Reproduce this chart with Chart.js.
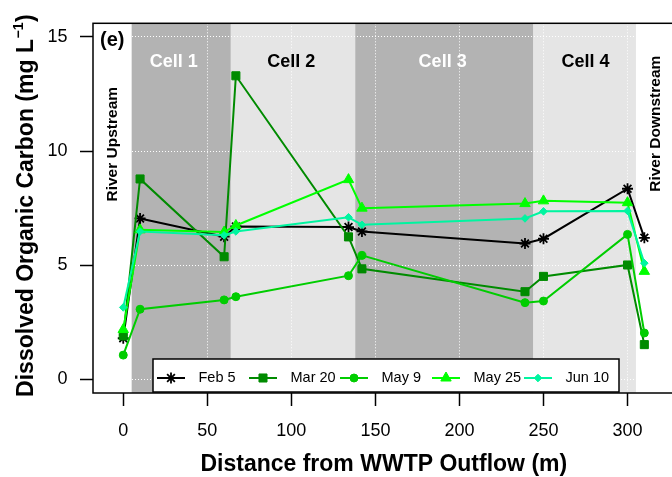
<!DOCTYPE html>
<html>
<head>
<meta charset="utf-8">
<script src="https://cdn.jsdelivr.net/npm/chart.js@4.4.1/dist/chart.umd.min.js"></script>
<style>
  html, body { margin: 0; padding: 0; background: #fff; overflow: hidden; }
  #docChart { display: block; }
</style>
</head>
<body>
<canvas id="docChart" width="700" height="477"></canvas>
<script>
// sampling points, metres from the outflow
const distance = [0, 10, 60, 67, 134, 142, 239, 250, 300, 310];

const feb5  = [1.80, 7.05, 6.25, 6.70, 6.67, 6.48, 5.95, 6.16, 8.35, 6.20];
const mar20 = [1.90, 8.78, 5.37, 13.30, 6.24, 4.84, 3.84, 4.51, 5.01, 1.52];
const may9  = [1.06, 3.07, 3.48, 3.62, 4.54, 5.43, 3.36, 3.43, 6.35, 2.03];
const may25 = [2.18, 6.55, 6.45, 6.74, 8.75, 7.50, 7.70, 7.82, 7.74, 4.73];
const jun10 = [3.15, 6.48, 6.31, 6.48, 7.10, 6.77, 7.05, 7.36, 7.38, 5.09];

const seriesLabels = ['Feb 5', 'Mar 20', 'May 9', 'May 25', 'Jun 10'];
const seriesValues = [feb5, mar20, may9, may25, jun10];
const seriesColors = ['#000000', '#008B00', '#00CD00', '#00FF00', '#00F5A0'];
const seriesMarkers = ['star', 'rect', 'circle', 'triangle', 'rectRot'];
const markerSizes = [5.5, 5.7, 4, 6, 3.8];

const xTicks = [0, 50, 100, 150, 200, 250, 300];
const yTicks = [0, 5, 10, 15];

// wetland cells
const cellNames = ['Cell 1', 'Cell 2', 'Cell 3', 'Cell 4'];
const cellStart = [5, 64, 138, 244];
const cellEnd = [64, 138, 244, 305];
const cellShade = ['#b3b3b3', '#e5e5e5', '#b3b3b3', '#e5e5e5'];
const cellInk = ['#ffffff', '#000000', '#ffffff', '#000000'];
const cellLabelX = [30, 100, 190, 275];
const cellLabelY = 13.9;

const sideNotes = ['River Upstream', 'River Downstream'];
const sideNoteX = [-6, 317];
const sideNoteY = [10.3, 11.2];

const FONT = '"Liberation Sans", Arial, sans-serif';

function drawMarker(ctx, i, x, y) {
    const opts = {
        pointStyle: seriesMarkers[i],
        radius: markerSizes[i],
        rotation: 0,
        borderWidth: i === 0 ? 1.8 : 1
    };
    ctx.fillStyle = seriesColors[i];
    ctx.strokeStyle = seriesColors[i];
    ctx.lineWidth = opts.borderWidth;
    Chart.helpers.drawPoint(ctx, opts, x, y);
}

const chartArt = {
    id: 'chartArt',
    beforeDraw(chart) {
        const { ctx, chartArea: a, scales: { x } } = chart;
        ctx.save();
        ctx.fillStyle = '#fff';
        ctx.fillRect(0, 0, chart.width, chart.height);
        for (let i = 0; i < cellStart.length; i++) {
            const l = x.getPixelForValue(cellStart[i]);
            const r = x.getPixelForValue(cellEnd[i]);
            ctx.fillStyle = cellShade[i];
            ctx.fillRect(l, a.top, r - l, a.bottom - a.top);
        }
        ctx.restore();
    },
    beforeDatasetsDraw(chart) {
        const { ctx, chartArea: a, scales: { x, y } } = chart;
        ctx.save();
        ctx.textAlign = 'center';
        ctx.textBaseline = 'middle';
        ctx.font = 'bold 18px ' + FONT;
        for (let i = 0; i < cellNames.length; i++) {
            ctx.fillStyle = cellInk[i];
            ctx.fillText(cellNames[i], x.getPixelForValue(cellLabelX[i]), y.getPixelForValue(cellLabelY));
        }
        ctx.fillStyle = '#000';
        ctx.font = 'bold 15.5px ' + FONT;
        for (let i = 0; i < sideNotes.length; i++) {
            ctx.save();
            ctx.translate(x.getPixelForValue(sideNoteX[i]), y.getPixelForValue(sideNoteY[i]));
            ctx.rotate(-Math.PI / 2);
            ctx.fillText(sideNotes[i], 0, 0);
            ctx.restore();
        }
        ctx.textAlign = 'left';
        ctx.textBaseline = 'alphabetic';
        ctx.font = 'bold 20px ' + FONT;
        ctx.fillText('(e)', a.left + 7, a.top + 22.5);
        ctx.restore();
    },
    afterDatasetsDraw(chart) {
        const { ctx } = chart;
        // legend box sitting on the bottom of the plot
        const box = { left: 153, top: 359, right: 619, bottom: 392 };
        const starts = [157, 249, 340, 432, 524];
        const midY = 378;
        ctx.save();
        ctx.fillStyle = '#fff';
        ctx.fillRect(box.left, box.top, box.right - box.left, box.bottom - box.top);
        ctx.strokeStyle = '#000';
        ctx.lineWidth = 1.5;
        ctx.strokeRect(box.left, box.top, box.right - box.left, box.bottom - box.top);
        ctx.font = '14.5px ' + FONT;
        ctx.textBaseline = 'middle';
        ctx.textAlign = 'left';
        for (let i = 0; i < seriesLabels.length; i++) {
            const s = starts[i];
            ctx.strokeStyle = seriesColors[i];
            ctx.lineWidth = 2;
            ctx.beginPath();
            ctx.moveTo(s, midY);
            ctx.lineTo(s + 28, midY);
            ctx.stroke();
            drawMarker(ctx, i, s + 14, midY);
            ctx.fillStyle = '#000';
            ctx.fillText(seriesLabels[i], s + 41.5, midY);
        }
        ctx.restore();
    },
    afterDraw(chart) {
        const { ctx, chartArea: a, scales: { x } } = chart;
        ctx.save();
        ctx.strokeStyle = '#000';
        ctx.lineWidth = 1.5;
        ctx.strokeRect(a.left, a.top, a.right - a.left, a.bottom - a.top);

        ctx.fillStyle = '#000';
        // x title
        ctx.font = 'bold 23px ' + FONT;
        ctx.textAlign = 'center';
        ctx.textBaseline = 'alphabetic';
        ctx.fillText('Distance from WWTP Outflow (m)', x.getPixelForValue(155), 471);

        // y title with superscript
        const main = 'Dissolved Organic Carbon (mg L';
        const sup = '\u22121';
        const tail = ')';
        ctx.textAlign = 'left';
        ctx.font = 'bold 23px ' + FONT;
        const w1 = ctx.measureText(main).width;
        const w3 = ctx.measureText(tail).width;
        ctx.font = 'bold 14px ' + FONT;
        const w2 = ctx.measureText(sup).width;
        const start = -(w1 + w2 + w3) / 2;
        ctx.translate(33, (a.top + a.bottom) / 2 - 2);
        ctx.rotate(-Math.PI / 2);
        ctx.font = 'bold 23px ' + FONT;
        ctx.fillText(main, start, 0);
        ctx.fillText(tail, start + w1 + w2 + 1, 0);
        ctx.font = 'bold 14px ' + FONT;
        ctx.fillText(sup, start + w1 + 0.5, -10);
        ctx.restore();
    }
};

new Chart(document.getElementById('docChart'), {
    type: 'line',
    data: {
        datasets: seriesLabels.map((label, i) => ({
            label: label,
            data: distance.map((d, j) => ({ x: d, y: seriesValues[i][j] })),
            borderColor: seriesColors[i],
            backgroundColor: seriesColors[i],
            pointBackgroundColor: seriesColors[i],
            pointBorderColor: seriesColors[i],
            pointStyle: seriesMarkers[i],
            pointRadius: markerSizes[i],
            pointBorderWidth: i === 0 ? 1.8 : 1,
            borderWidth: 2,
            tension: 0,
            // later dates drawn on top
            order: seriesLabels.length - i
        }))
    },
    options: {
        responsive: false,
        animation: false,
        devicePixelRatio: 1,
        layout: { padding: { top: 15, right: 17, left: 0, bottom: 0 } },
        plugins: {
            legend: { display: false },
            tooltip: { enabled: false }
        },
        scales: {
            x: {
                type: 'linear',
                min: -18,
                max: 333,
                afterBuildTicks: (axis) => { axis.ticks = xTicks.map(v => ({ value: v })); },
                afterFit: (axis) => { axis.height = 84; },
                border: { display: false, dash: [1, 2] },
                grid: {
                    color: '#ffffff',
                    lineWidth: 1,
                    drawTicks: true,
                    tickLength: 13,
                    tickColor: '#000',
                    tickWidth: 1.5,
                    tickBorderDash: []
                },
                ticks: {
                    color: '#000',
                    padding: 14,
                    maxRotation: 0,
                    font: { family: FONT, size: 18 }
                }
            },
            y: {
                min: -0.6,
                max: 15.6,
                afterBuildTicks: (axis) => { axis.ticks = yTicks.map(v => ({ value: v })); },
                afterFit: (axis) => { axis.width = 93; },
                border: { display: false, dash: [1, 2] },
                grid: {
                    color: '#ffffff',
                    lineWidth: 1,
                    drawTicks: true,
                    tickLength: 13,
                    tickColor: '#000',
                    tickWidth: 1.5,
                    tickBorderDash: []
                },
                ticks: {
                    color: '#000',
                    padding: 12.5,
                    font: { family: FONT, size: 18 }
                }
            }
        }
    },
    plugins: [chartArt]
});
</script>
</body>
</html>
